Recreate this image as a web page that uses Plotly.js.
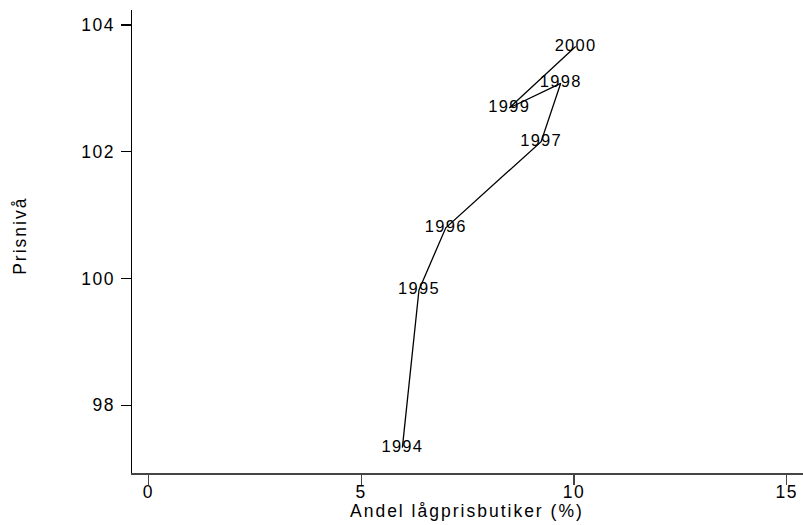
<!DOCTYPE html>
<html>
<head>
<meta charset="utf-8">
<script src="https://cdn.plot.ly/plotly-3.0.1.min.js"></script>
<style>
html,body{margin:0;padding:0;background:#fff;}
#chart{width:803px;height:525px;}
#chart .xtick text, #chart .ytick text { letter-spacing: 1.5px; }
#chart .textpoint text { letter-spacing: 1.3px; }
#chart .annotation-text { letter-spacing: 2px; }
</style>
</head>
<body>
<div id="chart"></div>
<script>
var years = ["1994", "1995", "1996", "1997", "1998", "1999", "2000"];
var shareLowPrice = [5.97, 6.36, 6.99, 9.23, 9.69, 8.48, 10.04];
var priceLevel = [97.33, 99.82, 100.80, 102.16, 103.08, 102.69, 103.66];
var xTicks = [0, 5, 10, 15];
var yTicks = [98, 100, 102, 104];
var xTitle = 'Andel lågprisbutiker (%)';
var yTitle = 'Prisnivå';

var FONT = '"Liberation Sans", Arial, Helvetica, sans-serif';

var trace = {
  x: shareLowPrice,
  y: priceLevel,
  mode: 'lines+text',
  text: years,
  textposition: 'middle center',
  textfont: {family: FONT, size: 16.5, color: '#000'},
  line: {color: '#000', width: 1.3},
  hoverinfo: 'none',
  cliponaxis: false
};

var layout = {
  width: 803, height: 525,
  paper_bgcolor: '#fff', plot_bgcolor: '#fff',
  margin: {l: 132, r: 0, t: 10, b: 52},
  showlegend: false,
  font: {family: FONT, color: '#000'},
  xaxis: {
    range: [-0.383, 15.383],
    tickvals: xTicks, ticktext: xTicks.map(String),
    ticks: 'outside', ticklen: 10, tickwidth: 1.2, tickcolor: '#444',
    ticklabelstandoff: -8,
    showline: true, linecolor: '#444', linewidth: 2,
    showgrid: false, zeroline: false,
    tickfont: {family: FONT, size: 17.5, color: '#000'}
  },
  yaxis: {
    range: [96.93, 104.237],
    tickvals: yTicks, ticktext: yTicks.map(String),
    ticks: 'outside', ticklen: 10, tickwidth: 1.2, tickcolor: '#000',
    ticklabelstandoff: 2,
    showline: true, linecolor: '#000', linewidth: 1.5,
    showgrid: false, zeroline: false,
    tickfont: {family: FONT, size: 17.5, color: '#000'}
  },
  annotations: [
    {text: xTitle, xref: 'paper', yref: 'paper',
     x: (466.7 - 132) / 671, y: (472.7 - 510.5) / 462.7,
     xanchor: 'center', yanchor: 'middle', showarrow: false,
     font: {family: FONT, size: 17.5, color: '#000'}},
    {text: yTitle, xref: 'paper', yref: 'paper',
     x: (19.7 - 132) / 671, y: (472.7 - 235) / 462.7,
     xanchor: 'center', yanchor: 'middle', showarrow: false, textangle: -90,
     font: {family: FONT, size: 17.5, color: '#000'}}
  ]
};

Plotly.newPlot('chart', [trace], layout, {displayModeBar: false, staticPlot: true});
</script>
</body>
</html>
